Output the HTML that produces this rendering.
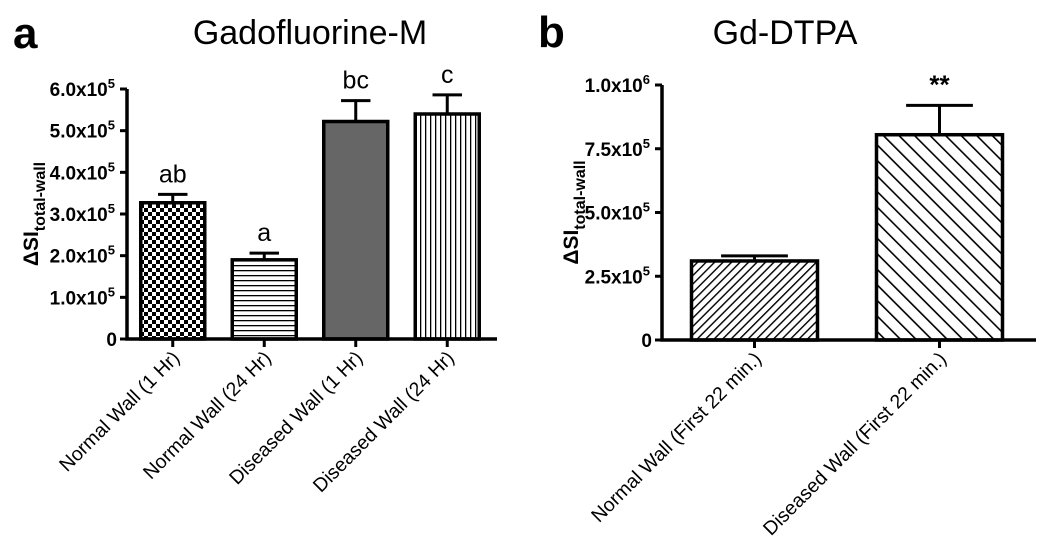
<!DOCTYPE html>
<html><head><meta charset="utf-8"><style>
body{margin:0;background:#fff;width:1050px;height:550px;overflow:hidden}
svg text{font-family:"Liberation Sans",Arial,sans-serif}
</style></head><body>
<svg id="c" width="1050" height="550" xmlns="http://www.w3.org/2000/svg">
<defs>
<pattern id="pCheck" width="8" height="8" patternUnits="userSpaceOnUse"><rect width="8" height="8" fill="#fff"/><rect width="4" height="4" fill="#000"/><rect x="4" y="4" width="4" height="4" fill="#000"/></pattern>
<pattern id="pHoriz" width="6" height="5" patternUnits="userSpaceOnUse"><rect width="6" height="5" fill="#fff"/><rect y="0" width="6" height="1.3" fill="#000"/></pattern>
<pattern id="pVert" width="5" height="6" patternUnits="userSpaceOnUse"><rect width="5" height="6" fill="#fff"/><rect x="0" width="1.3" height="6" fill="#000"/></pattern>
<pattern id="pDiagR" width="6" height="6" patternUnits="userSpaceOnUse" patternTransform="rotate(45)"><rect width="6" height="6" fill="#fff"/><rect width="1.4" height="6" fill="#000"/></pattern>
<pattern id="pDiagL" width="11" height="11" patternUnits="userSpaceOnUse" patternTransform="rotate(-45)"><rect width="11" height="11" fill="#fff"/><rect width="1.6" height="11" fill="#000"/></pattern>
</defs>
<text x="13" y="48" font-size="44" font-weight="bold">a</text>
<text x="310" y="44" font-size="34" text-anchor="middle">Gadofluorine-M</text>
<text x="538" y="47" font-size="44" font-weight="bold">b</text>
<text x="785" y="44" font-size="34" text-anchor="middle">Gd-DTPA</text>
<g id="ga"></g><g id="gb"></g>
</svg>
<script>
const catsA=["Normal Wall (1 Hr)","Normal Wall (24 Hr)","Diseased Wall (1 Hr)","Diseased Wall (24 Hr)"];
const valsA=[3.27,1.90,5.22,5.40];
const errsA=[0.20,0.16,0.50,0.46];
const sigA=["ab","a","bc","c"];
const ticksA=[0,1,2,3,4,5,6];
const tickLabA=["0","1.0x10","2.0x10","3.0x10","4.0x10","5.0x10","6.0x10"];
const catsB=["Normal Wall (First 22 min.)","Diseased Wall (First 22 min.)"];
const valsB=[3.1,8.05];
const errsB=[0.2,1.15];
const sigB=["","**"];
const ticksB=[0,2.5,5,7.5,10];
const tickLabB=["0","2.5x10","5.0x10","7.5x10","1.0x10"];
const expB=["","5","5","5","6"];
const NS="http://www.w3.org/2000/svg";
function mk(p,t,a,txt){const e=document.createElementNS(NS,t);for(const k in a)e.setAttribute(k,a[k]);if(txt!==undefined)e.textContent=txt;p.appendChild(e);return e;}
function panel(g,o){
  const y=v=>o.y0-(v-0)/o.max*(o.y0-o.ytop);
  const step=(o.xend-o.x0)/o.cats.length;
  o.ticks.forEach((t,i)=>{
    const l=mk(g,"line",{x1:o.x0-7,x2:o.x0,y1:y(t),y2:y(t),stroke:"#000","stroke-width":3});
    
    
    const tx=mk(g,"text",{x:o.x0-(i>0?12:10),y:y(t)+7,"font-size":19,"font-weight":"bold","text-anchor":"end"},o.tlab[i]);
    
    
    if(i>0){mk(tx,"tspan",{dy:-8,"font-size":13},o.exp[i]);}
  });
  o.cats.forEach((c,i)=>{
    const cx=o.x0+step*(i+0.5);
    const top=y(o.vals[i]), et=y(o.vals[i]+o.errs[i]);
    const el=mk(g,"line",{x1:cx,x2:cx,y1:top,y2:et,stroke:"#000","stroke-width":3});
    
    
    const cw=o.bw*o.capf/2;
    const ec=mk(g,"line",{x1:cx-cw,x2:cx+cw,y1:et,y2:et,stroke:"#000","stroke-width":3});
    
    
    const r=mk(g,"rect",{x:cx-o.bw/2,y:top,width:o.bw,height:o.y0-top,fill:o.fills[i],stroke:"#000","stroke-width":3.5});
    
    
    if(o.sig[i]){const s=mk(g,"text",{x:cx,y:et-12,"font-size":o.sigBold?26:25,"font-weight":o.sigBold?"bold":"normal","text-anchor":"middle"},o.sig[i]);
      
      }
    const tk=mk(g,"line",{x1:cx,x2:cx,y1:o.y0,y2:o.y0+8,stroke:"#000","stroke-width":3});
    
    
    const lx=cx+8, ly=o.y0+20;
    const lb=mk(g,"text",{x:lx,y:ly,"font-size":19.5,"text-anchor":"end",transform:`rotate(-45 ${lx} ${ly})`},c);
    
    
  });
  const ax=mk(g,"path",{d:`M${o.x0} ${o.ytop}V${o.y0}H${o.xend+4}`,fill:"none",stroke:"#000","stroke-width":3.5});
  
  
  const yt=mk(g,"text",{transform:`translate(${o.ylx},${(o.y0+o.ytop)/2}) rotate(-90)`,"font-size":21,"font-weight":"bold","text-anchor":"middle"});
  
  
  mk(yt,"tspan",{},"ΔSI");mk(yt,"tspan",{dy:7,"font-size":16},"total-wall");
}
panel(document.getElementById("ga"),{x0:127,xend:493,y0:339,ytop:89,max:6,cats:catsA,vals:valsA,errs:errsA,sig:sigA,ticks:ticksA,tlab:tickLabA,exp:["","5","5","5","5","5","5"],bw:64,capf:0.46,fills:["url(#pCheck)","url(#pHoriz)","#666","url(#pVert)"],ylx:38});
panel(document.getElementById("gb"),{x0:662,xend:1032,y0:340,ytop:85,max:10,cats:catsB,vals:valsB,errs:errsB,sig:sigB,ticks:ticksB,tlab:tickLabB,exp:expB,bw:126,capf:0.53,fills:["url(#pDiagR)","url(#pDiagL)"],ylx:578,sigBold:true});
</script>
</body></html>
